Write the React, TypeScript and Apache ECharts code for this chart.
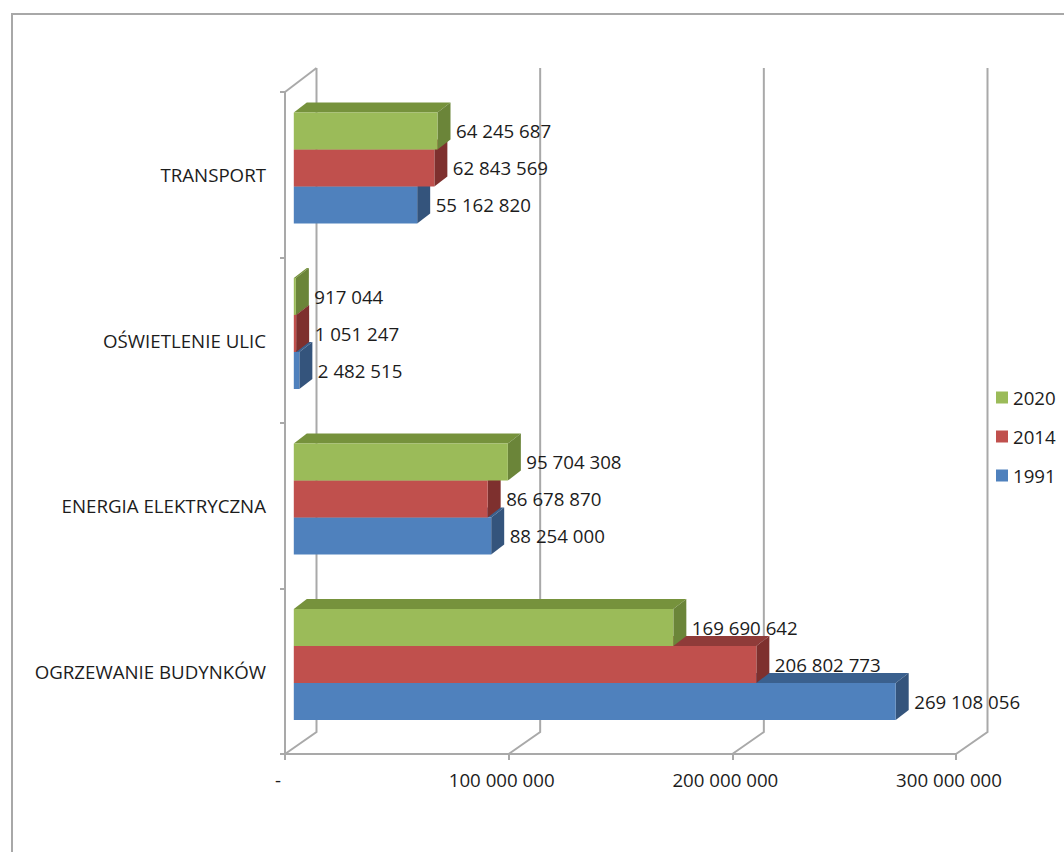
import React, { useEffect, useRef } from "react";
import * as echarts from "echarts";

const categories = ["OGRZEWANIE BUDYNKÓW", "ENERGIA ELEKTRYCZNA", "OŚWIETLENIE ULIC", "TRANSPORT"];
const values1991 = [269108056, 88254000, 2482515, 55162820];
const values2014 = [206802773, 86678870, 1051247, 62843569];
const values2020 = [169690642, 95704308, 917044, 64245687];
const xTicks = [0, 100000000, 200000000, 300000000];
const xTickLabels = ["-", "100 000 000", "200 000 000", "300 000 000"];

const FONT = '"Open Sans", sans-serif';
const FS = 18.7;
const TEXT = "#1c1c1c";
const AXIS = "#a9a9a9";
const DX = 31.5, DY = 22;         // wall depth
const BX = 8.8, BY = -6.75;       // bar inset
const SX = 13, SY = 10;           // bar depth
const BAR_H = 37;

const fmt = (v: number) => String(v).replace(/\B(?=(\d{3})+$)/g, " ");

function barSeries(name: string, values: number[], k: number, front: string, side: string, top: string) {
  return {
    type: "custom",
    name,
    clip: false,
    silent: true,
    itemStyle: { color: front },
    encode: { x: 0, y: 1 },
    data: values.map((v, i) => [v, i]),
    z: 3 + k,
    renderItem: (_p: any, api: any) => {
      const v = api.value(0), i = api.value(1);
      const end = api.coord([v, i]);
      const start = api.coord([0, i]);
      const x0 = start[0] + BX, x1 = end[0] + BX;
      const yc = end[1] + BY + (k - 1) * -BAR_H;
      const y0 = yc - BAR_H / 2, y1 = yc + BAR_H / 2;
      const poly = (points: number[][], fill: string) => ({ type: "polygon", shape: { points }, style: { fill } });
      return {
        type: "group",
        children: [
          poly([[x0, y0], [x0 + SX, y0 - SY], [x1 + SX, y0 - SY], [x1, y0]], top),
          poly([[x1, y0], [x1 + SX, y0 - SY], [x1 + SX, y1 - SY], [x1, y1]], side),
          { type: "rect", shape: { x: x0, y: y0, width: x1 - x0, height: BAR_H }, style: { fill: front } },
          {
            type: "text",
            z2: 10,
            style: {
              text: fmt(v), x: x1 + SX + 5.5, y: yc - 0.5, fill: TEXT,
              font: `${FS}px ${FONT}`, verticalAlign: "middle", align: "left",
            },
          },
        ],
      };
    },
  };
}

export default function App() {
  const ref = useRef<HTMLDivElement>(null);
  useEffect(() => {
    const chart = echarts.init(ref.current!, null, { renderer: "svg" });
    chart.setOption({
      animation: false,
      backgroundColor: "#fff",
      grid: { left: 285, top: 92, width: 671, height: 662, containLabel: false },
      legend: {
        left: 991,
        top: 383,
        orient: "vertical",
        itemWidth: 12,
        itemHeight: 12,
        itemGap: 20,
        icon: "rect",
        selectedMode: false,
        data: ["2020", "2014", "1991"],
        textStyle: { fontFamily: FONT, fontSize: FS, color: TEXT },
      },
      xAxis: {
        type: "value",
        min: 0,
        max: 300000000,
        interval: 100000000,
        splitLine: { show: false },
        axisLine: { show: true, onZero: false, lineStyle: { color: AXIS, width: 2 } },
        axisTick: { show: true, length: 6, lineStyle: { color: AXIS, width: 2 } },
        axisLabel: {
          color: TEXT,
          fontFamily: FONT,
          fontSize: FS,
          margin: 16,
          padding: [0, 14, 0, 0],
          formatter: (v: number) => xTickLabels[xTicks.indexOf(v)],
        },
      },
      yAxis: {
        type: "category",
        data: categories,
        splitLine: { show: false },
        axisLine: { show: true, onZero: false, lineStyle: { color: AXIS, width: 2 } },
        axisTick: { show: true, length: 5, lineStyle: { color: AXIS, width: 2 } },
        axisLabel: { color: TEXT, fontFamily: FONT, fontSize: FS, margin: 19 },
      },
      series: [
        {
          type: "custom",
          name: "walls",
          clip: false,
          silent: true,
          encode: { x: 0 },
          data: xTicks.map((t) => [t, 0]),
          z: 1,
          renderItem: (p: any, api: any) => {
            const cs = p.coordSys;
            const x = api.coord([api.value(0), 0])[0];
            const yf = cs.y + cs.height;
            const ls = { stroke: AXIS, lineWidth: 2, fill: "none" };
            const children: any[] = [
              { type: "polyline", shape: { points: [[x, yf], [x + DX, yf - DY], [x + DX, cs.y - DY - 2]] }, style: ls },
            ];
            if (api.value(0) === 0) {
              children.push({ type: "line", shape: { x1: x, y1: cs.y, x2: x + DX, y2: cs.y - DY - 2 }, style: ls });
            }
            return { type: "group", children };
          },
        },
        barSeries("1991", values1991, 0, "#4f81bd", "#34547c", "#3a608e"),
        barSeries("2014", values2014, 1, "#c0504d", "#7e302e", "#8f3b39"),
        barSeries("2020", values2020, 2, "#9bbb59", "#6b8539", "#76923c"),
      ],
      graphic: [
        { type: "line", shape: { x1: 12, y1: 14, x2: 1064, y2: 14 }, style: { stroke: "#a8a8a8", lineWidth: 2 } },
        { type: "line", shape: { x1: 12, y1: 13, x2: 12, y2: 852 }, style: { stroke: "#a8a8a8", lineWidth: 2 } },
      ],
    });
    return () => chart.dispose();
  }, []);
  return <div ref={ref} style={{ position: "absolute", left: 0, top: 0, width: 1064, height: 852 }} />;
}
